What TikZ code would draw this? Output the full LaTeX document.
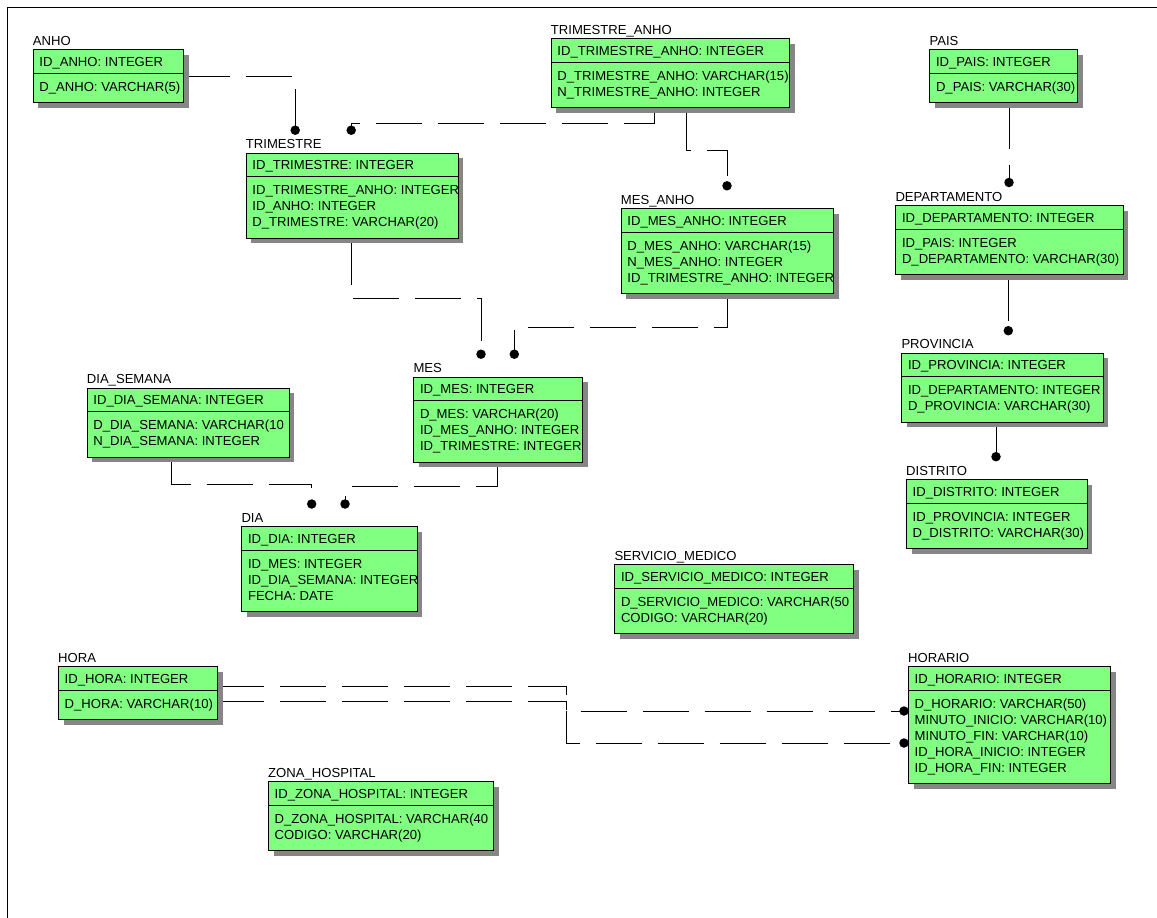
\documentclass[tikz,border=0pt]{standalone}
\usepackage{fontspec}
\setmainfont{Liberation Sans}
\usepackage{tikz}
\usetikzlibrary{shadows,backgrounds}

\definecolor{verde}{RGB}{128,255,128}

\tikzset{
  tabla/.style={draw, fill=verde, anchor=north west, inner sep=0pt, line width=1pt,
    drop shadow={shadow xshift=5pt, shadow yshift=-5pt, fill=gray!95, opacity=1}},
  texto/.style={anchor=base west, inner sep=0pt},
  rel/.style={line width=0.9pt, dash pattern=on 46pt off 16pt},
  punto/.style={circle, fill, inner sep=0pt, minimum size=9.5pt},
}

% #1 nombre, #2 esquina, #3 ancho, #4 titulo, #5 clave, #6 atributos
\newcommand{\tabla}[6]{
  \foreach \a [count=\n] in {#6} {\xdef\nfilas{\n}}
  \node[tabla, minimum width=#3, minimum height={37+16*\nfilas}] (#1) at (#2) {};
  \node[texto] (#1-t) at ([yshift=4pt]#1.north west) {#4};
  \begin{scope}
    \clip (#1.north west) rectangle (#1.south east);
    \draw[line width=1pt] ([yshift=-24pt]#1.north west) -- ([yshift=-24pt]#1.north east);
    \node[texto] (#1-k) at ([shift={(6.5pt,-17pt)}]#1.north west) {#5};
    \foreach \a [count=\i] in {#6}
      \node[texto] (#1-\i) at ([shift={(6.5pt,{-42pt-16pt*(\i-1)})}]#1.north west) {\a};
  \end{scope}
}

\begin{document}
\begin{tikzpicture}[x=1pt, y=-1pt, font=\fontsize{13.1}{16}\selectfont]
  \clip (0,0) rectangle (1157,918);
  \draw[line width=1.8pt] (7.5,7.5) rectangle (1200,1000);

  % tablas
  \tabla{anho}{32.7,49.3}{150.6}{ANHO}{ID\_ANHO: INTEGER}{D\_ANHO: VARCHAR(5)}
  \tabla{trimanho}{550.7,38.3}{238.6}{TRIMESTRE\_ANHO}{ID\_TRIMESTRE\_ANHO: INTEGER}
    {D\_TRIMESTRE\_ANHO: VARCHAR(15), N\_TRIMESTRE\_ANHO: INTEGER}
  \tabla{pais}{929.3,49.3}{148}{PAIS}{ID\_PAIS: INTEGER}{D\_PAIS: VARCHAR(30)}
  \tabla{trimestre}{245.7,152.7}{212}{TRIMESTRE}{ID\_TRIMESTRE: INTEGER}
    {ID\_TRIMESTRE\_ANHO: INTEGER, ID\_ANHO: INTEGER, D\_TRIMESTRE: VARCHAR(20)}
  \tabla{mesanho}{620.7,208.3}{212.6}{MES\_ANHO}{ID\_MES\_ANHO: INTEGER}
    {D\_MES\_ANHO: VARCHAR(15), N\_MES\_ANHO: INTEGER, ID\_TRIMESTRE\_ANHO: INTEGER}
  \tabla{depto}{895.3,205}{227.4}{DEPARTAMENTO}{ID\_DEPARTAMENTO: INTEGER}
    {ID\_PAIS: INTEGER, D\_DEPARTAMENTO: VARCHAR(30)}
  \tabla{mes}{413.3,376.7}{169}{MES}{ID\_MES: INTEGER}
    {D\_MES: VARCHAR(20), ID\_MES\_ANHO: INTEGER, ID\_TRIMESTRE: INTEGER}
  \tabla{prov}{901.3,352.7}{201.4}{PROVINCIA}{ID\_PROVINCIA: INTEGER}
    {ID\_DEPARTAMENTO: INTEGER, D\_PROVINCIA: VARCHAR(30)}
  \tabla{diasem}{86.7,387.7}{202}{DIA\_SEMANA}{ID\_DIA\_SEMANA: INTEGER}
    {{D\_DIA\_SEMANA: VARCHAR(10}, N\_DIA\_SEMANA: INTEGER}
  \tabla{dia}{241.3,526}{175.4}{DIA}{ID\_DIA: INTEGER}
    {ID\_MES: INTEGER, ID\_DIA\_SEMANA: INTEGER, FECHA: DATE}
  \tabla{distrito}{906,479}{180.7}{DISTRITO}{ID\_DISTRITO: INTEGER}
    {ID\_PROVINCIA: INTEGER, D\_DISTRITO: VARCHAR(30)}
  \tabla{servicio}{614.3,564.3}{239}{SERVICIO\_MEDICO}{ID\_SERVICIO\_MEDICO: INTEGER}
    {{D\_SERVICIO\_MEDICO: VARCHAR(50}, CODIGO: VARCHAR(20)}
  \tabla{hora}{58,666}{159}{HORA}{ID\_HORA: INTEGER}{D\_HORA: VARCHAR(10)}
  \tabla{horario}{908,666}{202}{HORARIO}{ID\_HORARIO: INTEGER}
    {D\_HORARIO: VARCHAR(50), MINUTO\_INICIO: VARCHAR(10), MINUTO\_FIN: VARCHAR(10),
     ID\_HORA\_INICIO: INTEGER, ID\_HORA\_FIN: INTEGER}
  \tabla{zona}{268,781}{225}{ZONA\_HOSPITAL}{ID\_ZONA\_HOSPITAL: INTEGER}
    {{D\_ZONA\_HOSPITAL: VARCHAR(40}, CODIGO: VARCHAR(20)}

  % puntos de las relaciones
  \node[punto] (p1) at ([shift={(49.5pt,22.5pt)}]trimestre.north west) {};
  \node[punto] (p2) at ([shift={(105.5pt,22.5pt)}]trimestre.north west) {};
  \node[punto] (p3) at ([shift={(106.3pt,22.5pt)}]mesanho.north west) {};
  \node[punto] (p4) at ([shift={(101pt,22.5pt)}]mes.north west) {};
  \node[punto] (p5) at ([shift={(67.7pt,22.5pt)}]mes.north west) {};
  \node[punto] (p6) at ([shift={(70.4pt,22pt)}]dia.north west) {};
  \node[punto] (p7) at ([shift={(103.7pt,22pt)}]dia.north west) {};
  \node[punto] (p8) at ([shift={(113.7pt,22.5pt)}]depto.north west) {};
  \node[punto] (p9) at ([shift={(107pt,22pt)}]prov.north west) {};
  \node[punto] (p10) at ([shift={(90pt,22.3pt)}]distrito.north west) {};
  \node[punto] (q1) at ([shift={(-4pt,-45pt)}]horario.north west) {};
  \node[punto] (q2) at ([shift={(-4pt,-77pt)}]horario.north west) {};

  % relaciones
  \begin{scope}[on background layer]
    \draw[rel] (anho.east) -| (p1.center);
    \draw[rel] ([xshift=104pt]trimanho.south west) -- ++(0,15) -| (p2.center);
    \draw[rel] ([xshift=136pt]trimanho.south west) -- ++(0,42) -| (p3.center);
    \draw[rel] ([xshift=106.3pt]mesanho.south west) -- ++(0,33) -| (p4.center);
    \draw[rel] ([xshift=105.5pt]trimestre.south west) -- ++(0,60) -| (p5.center);
    \draw[rel] ([xshift=85pt]diasem.south west) -- ++(0,27) -| (p6.center);
    \draw[rel] ([xshift=84.4pt]mes.south west) -- ++(0,24) -| (p7.center);
    \draw[rel] (p8 |- pais.south) -- (p8.center);
    \draw[rel] (p9 |- depto.south) -- (p9.center);
    \draw[rel] (p10 |- prov.south) -- (p10.center);
    \draw[rel] ([yshift=6.5pt]hora.east) -- ++(348,0) |- (q2.center);
    \draw[rel] ([yshift=-8.5pt]hora.east) -- ++(348,0) |- (q1.center);
  \end{scope}
\end{tikzpicture}
\end{document}
